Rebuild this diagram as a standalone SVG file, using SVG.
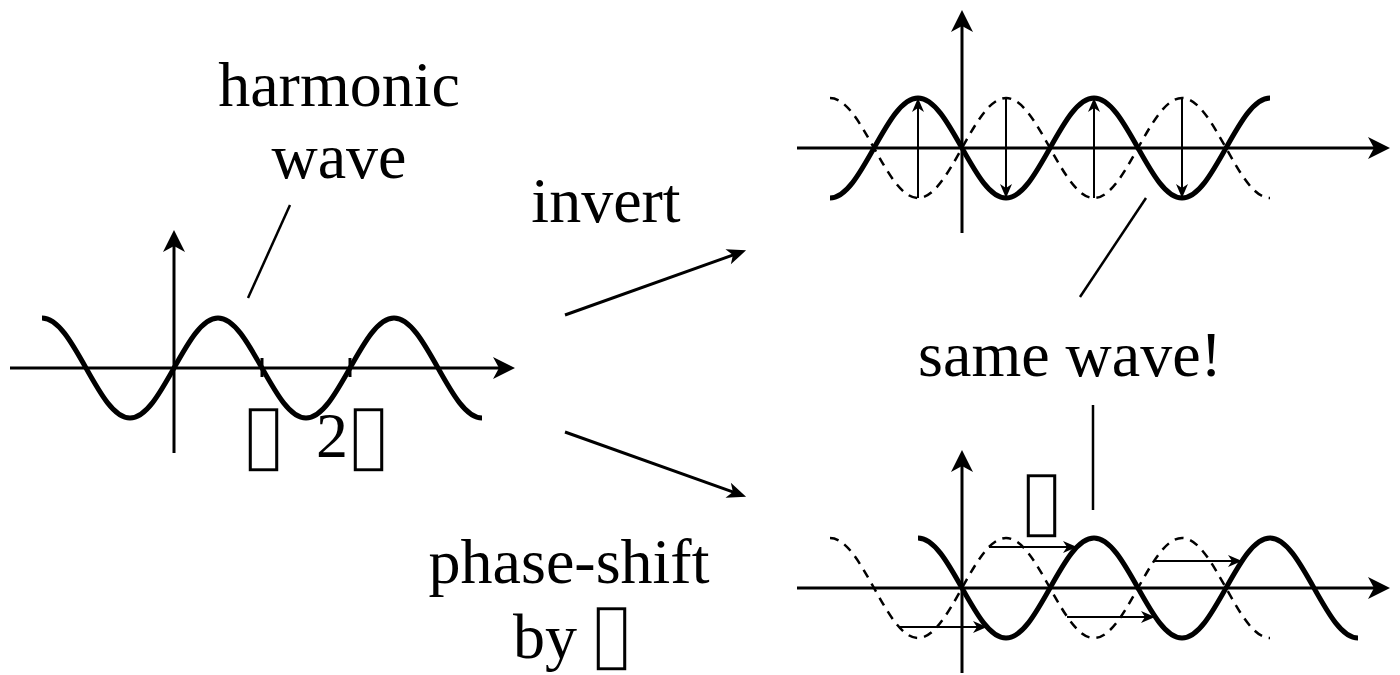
<svg xmlns="http://www.w3.org/2000/svg" width="1400" height="675" viewBox="0 0 1400 675">
<style>
text{font-family:"Liberation Serif","Times New Roman",serif;font-size:64px;fill:#000}
.box{font-family:"DejaVu Sans",sans-serif;font-size:85px;stroke:#fff;stroke-width:1.6}
.axis{stroke:#000;stroke-width:3;fill:none}
.wave{stroke:#000;stroke-width:5;fill:none}
.dash{stroke:#000;stroke-width:2.5;fill:none;stroke-dasharray:9 7}
.thin{stroke:#000;stroke-width:2;fill:none}
.conn{stroke:#000;stroke-width:3;fill:none}
.ptr{stroke:#000;stroke-width:2.5;fill:none}
</style>
<defs>
<marker id="axHead" markerUnits="userSpaceOnUse" markerWidth="24" markerHeight="24" viewBox="0 0 24 24" refX="12" refY="11" orient="auto" overflow="visible"><path d="M22,11 L0,0 L6,11 L0,22 Z" fill="#000"/></marker>
<marker id="cnHead" markerUnits="userSpaceOnUse" markerWidth="20" markerHeight="18" viewBox="0 0 20 18" refX="10" refY="8" orient="auto" overflow="visible"><path d="M19,8 L0,0 L5,8 L0,16 Z" fill="#000"/></marker>
<marker id="smHead" markerUnits="userSpaceOnUse" markerWidth="16" markerHeight="14" viewBox="0 0 16 14" refX="8" refY="6" orient="auto" overflow="visible"><path d="M14,6 L0,0 L4,6 L0,12 Z" fill="#000"/></marker>
</defs>

<g id="left-wave">
<line class="axis" x1="10" y1="368" x2="505" y2="368" marker-end="url(#axHead)"/>
<line class="axis" x1="174" y1="453" x2="174" y2="240" marker-end="url(#axHead)"/>
<line class="axis" x1="262" y1="358" x2="262" y2="377"/>
<line class="axis" x1="350" y1="358" x2="350" y2="377"/>
<path class="wave" d="M42,318 c 15.93,0 29.65,24.39 44,50 c 14.35,25.61 28.07,50 44,50 c 15.93,0 29.65,-24.39 44,-50 c 14.35,-25.61 28.07,-50 44,-50 c 15.93,0 29.65,24.39 44,50 c 14.35,25.61 28.07,50 44,50 c 15.93,0 29.65,-24.39 44,-50 c 14.35,-25.61 28.07,-50 44,-50 c 15.93,0 29.65,24.39 44,50 c 14.35,25.61 28.07,50 44,50"/>
<line class="ptr" x1="290" y1="205" x2="248" y2="298"/>
<text x="339" y="106" text-anchor="middle">harmonic</text>
<text x="339" y="178" text-anchor="middle">wave</text>
<text y="457"><tspan class="box" x="240" y="462">▯</tspan><tspan x="316" y="457">2</tspan><tspan class="box" x="345" y="462">▯</tspan></text>
</g>

<g id="inverted-wave">
<line class="axis" x1="797" y1="148" x2="1380" y2="148" marker-end="url(#axHead)"/>
<line class="axis" x1="962" y1="233" x2="962" y2="20" marker-end="url(#axHead)"/>
<path class="dash" d="M830,98 c 15.93,0 29.65,24.39 44,50 c 14.35,25.61 28.07,50 44,50 c 15.93,0 29.65,-24.39 44,-50 c 14.35,-25.61 28.07,-50 44,-50 c 15.93,0 29.65,24.39 44,50 c 14.35,25.61 28.07,50 44,50 c 15.93,0 29.65,-24.39 44,-50 c 14.35,-25.61 28.07,-50 44,-50 c 15.93,0 29.65,24.39 44,50 c 14.35,25.61 28.07,50 44,50"/>
<path class="wave" d="M830,198 c 15.93,0 29.65,-24.39 44,-50 c 14.35,-25.61 28.07,-50 44,-50 c 15.93,0 29.65,24.39 44,50 c 14.35,25.61 28.07,50 44,50 c 15.93,0 29.65,-24.39 44,-50 c 14.35,-25.61 28.07,-50 44,-50 c 15.93,0 29.65,24.39 44,50 c 14.35,25.61 28.07,50 44,50 c 15.93,0 29.65,-24.39 44,-50 c 14.35,-25.61 28.07,-50 44,-50"/>
<line class="thin" x1="918" y1="198" x2="918" y2="104" marker-end="url(#smHead)"/>
<line class="thin" x1="1006" y1="98" x2="1006" y2="192" marker-end="url(#smHead)"/>
<line class="thin" x1="1094" y1="198" x2="1094" y2="104" marker-end="url(#smHead)"/>
<line class="thin" x1="1182" y1="98" x2="1182" y2="192" marker-end="url(#smHead)"/>
</g>

<g id="same-wave-label">
<line class="ptr" x1="1146" y1="198" x2="1080" y2="297"/>
<text x="1070" y="376" text-anchor="middle">same wave!</text>
<line class="ptr" x1="1093" y1="405" x2="1093" y2="510"/>
</g>

<g id="shifted-wave">
<line class="axis" x1="797" y1="588" x2="1380" y2="588" marker-end="url(#axHead)"/>
<line class="axis" x1="962" y1="673" x2="962" y2="460" marker-end="url(#axHead)"/>
<path class="dash" d="M830,538 c 15.93,0 29.65,24.39 44,50 c 14.35,25.61 28.07,50 44,50 c 15.93,0 29.65,-24.39 44,-50 c 14.35,-25.61 28.07,-50 44,-50 c 15.93,0 29.65,24.39 44,50 c 14.35,25.61 28.07,50 44,50 c 15.93,0 29.65,-24.39 44,-50 c 14.35,-25.61 28.07,-50 44,-50 c 15.93,0 29.65,24.39 44,50 c 14.35,25.61 28.07,50 44,50"/>
<path class="wave" d="M918,538 c 15.93,0 29.65,24.39 44,50 c 14.35,25.61 28.07,50 44,50 c 15.93,0 29.65,-24.39 44,-50 c 14.35,-25.61 28.07,-50 44,-50 c 15.93,0 29.65,24.39 44,50 c 14.35,25.61 28.07,50 44,50 c 15.93,0 29.65,-24.39 44,-50 c 14.35,-25.61 28.07,-50 44,-50 c 15.93,0 29.65,24.39 44,50 c 14.35,25.61 28.07,50 44,50"/>
<line class="thin" x1="899" y1="627" x2="981" y2="627" marker-end="url(#smHead)"/>
<line class="thin" x1="989" y1="547" x2="1071" y2="547" marker-end="url(#smHead)"/>
<line class="thin" x1="1067" y1="617" x2="1149" y2="617" marker-end="url(#smHead)"/>
<line class="thin" x1="1154" y1="561" x2="1236" y2="561" marker-end="url(#smHead)"/>
<text class="box" x="1018" y="528">▯</text>
</g>

<g id="connectors">
<line class="conn" x1="565" y1="315" x2="737.6" y2="253.4" marker-end="url(#cnHead)"/>
<line class="conn" x1="565" y1="432" x2="737.6" y2="493.6" marker-end="url(#cnHead)"/>
</g>

<g id="labels">
<text x="606" y="222" text-anchor="middle">invert</text>
<text x="569" y="583" text-anchor="middle">phase-shift</text>
<text x="513" y="658">by <tspan class="box" x="588" y="661">▯</tspan></text>
</g>
</svg>
